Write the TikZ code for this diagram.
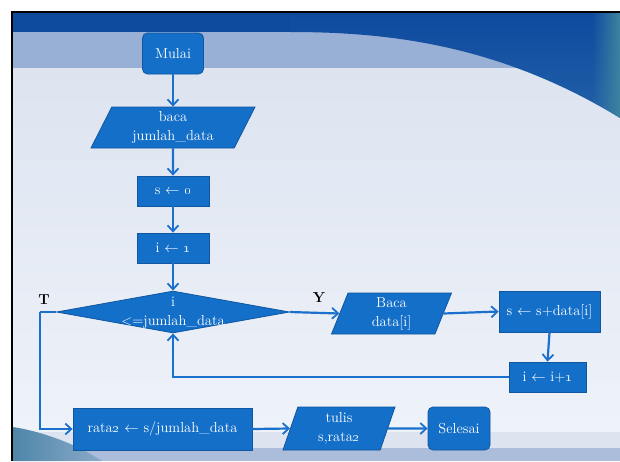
\documentclass[tikz,border=0pt]{standalone}
\usetikzlibrary{shapes.geometric,arrows.meta,fadings}

% slide palette
\definecolor{flowblue}{RGB}{20,111,201}
\definecolor{flowedge}{RGB}{16,86,160}
\definecolor{linkblue}{RGB}{26,112,204}
\definecolor{bandnavy}{RGB}{14,74,158}
\definecolor{bandlight}{RGB}{153,176,214}
\definecolor{paleA}{RGB}{221,228,240}
\definecolor{paleB}{RGB}{238,242,249}
\definecolor{swooshlight}{RGB}{34,96,168}
\definecolor{edgeteal}{RGB}{62,132,160}
\definecolor{footA}{RGB}{221,228,239}
\definecolor{footB}{RGB}{172,189,220}
\definecolor{cornerteal}{RGB}{78,134,168}

\tikzset{
  base/.style={fill=flowblue, draw=flowedge, line width=0.8pt, text=white,
    font=\fontsize{14.5}{19}\selectfont, align=center, inner sep=0pt},
  termbox/.style={base, rectangle, rounded corners=5pt},
  procbox/.style={base, rectangle},
  iobox/.style={base, trapezium, trapezium stretches body},
  decbox/.style={base, diamond},
  link/.style={draw=linkblue, line width=2.2pt,
    -{Straight Barb[length=6pt,width=11pt,line width=1.8pt]}},
  plainlink/.style={draw=linkblue, line width=2.2pt},
  branch/.style={font=\fontsize{14.5}{16}\selectfont\bfseries, text=black, inner sep=0pt}
}

\begin{document}
\begin{tikzpicture}[x=1pt, y=-1pt]
  \useasboundingbox (0,0) rectangle (620,461);

  % ---- slide background ----
  \fill[white] (0,0) rectangle (620,461);
  \shade[top color=paleA, bottom color=paleB] (13,68) rectangle (620,432);
  \fill[bandlight] (13,32) rectangle (620,68);
  \fill[bandnavy] (13,13) rectangle (620,32);
  % top-right swoosh
  \shade[top color=bandnavy, bottom color=swooshlight]
    (290,32) .. controls (390,32) and (500,45) .. (620,118)
    -- (620,13) -- (290,13) -- cycle;
  \fill[edgeteal, path fading=west]
    (592,13) -- (620,13) -- (620,118)
    .. controls (611,112) and (601,106) .. (592,101) -- cycle;
  % footer bands
  \fill[footA] (13,432) rectangle (620,448);
  \fill[footB] (13,448) rectangle (620,461);
  \shade[left color=cornerteal, right color=cornerteal!35!footB]
    (13,427) .. controls (45,432) and (80,446) .. (102,461) -- (13,461) -- cycle;
  % frame
  \draw[black, line width=2pt] (12,461) -- (12,12) -- (620,12);

  % ---- flowchart ----
  \node[termbox, minimum width=61pt, minimum height=41pt] (start) at (173,53.5) {Mulai};
  \node[iobox, trapezium left angle=57, trapezium right angle=123,
        minimum width=164pt, minimum height=41pt] (readn) at (173,127.5)
        {baca\\jumlah\_data};
  \node[procbox, minimum width=72pt, minimum height=30pt] (sinit) at (173,191)
        {s $\leftarrow$ \oldstylenums{0}};
  \node[procbox, minimum width=72pt, minimum height=30pt] (iinit) at (173,248)
        {i $\leftarrow$ \oldstylenums{1}};
  \node[decbox, minimum width=233pt, minimum height=42pt] (cond) at (173,312) {};
  \node[base, fill=none, draw=none] (condtext) at (173,313) {i\\<=jumlah\_data};
  \node[iobox, trapezium left angle=63, trapezium right angle=117,
        minimum width=120pt, minimum height=41pt] (readd) at (391.5,313.5)
        {Baca\\data[i]};
  \node[procbox, minimum width=101pt, minimum height=41pt] (accum) at (549.5,311.5)
        {s $\leftarrow$ s+data[i]};
  \node[procbox, minimum width=77pt, minimum height=30pt] (incr) at (547.5,377)
        {i $\leftarrow$ i+\oldstylenums{1}};
  \node[procbox, minimum width=179pt, minimum height=42pt] (avg) at (162.5,429)
        {rata\oldstylenums{2} $\leftarrow$ s/jumlah\_data};
  \node[iobox, trapezium left angle=65, trapezium right angle=115,
        minimum width=112pt, minimum height=43pt] (outp) at (339,428.5)
        {tulis\\s,rata\oldstylenums{2}};
  \node[termbox, minimum width=62pt, minimum height=43pt] (stop) at (459,428.5) {Selesai};

  \node[branch] (tlab) at (44,300) {T};
  \node[branch] (ylab) at (319,298) {Y};

  \coordinate (tturn) at (40,312);

  % ---- connectors ----
  \draw[link] (start) -- (readn);
  \draw[link] (readn) -- (sinit);
  \draw[link] (sinit) -- (iinit);
  \draw[link] (iinit) -- (cond);
  \draw[link] (cond.east) -- (readd.west);
  \draw[link] (readd.east) -- (accum.west);
  \draw[link] (accum.south) -- (incr.north);
  \draw[link] (incr.west) -| (cond.south);
  \draw[plainlink] (cond.west) -- (tturn);
  \draw[link] (tturn) |- (avg.west);
  \draw[link] (avg.east) -- (outp.west);
  \draw[link] (outp.east) -- (stop.west);
\end{tikzpicture}
\end{document}
